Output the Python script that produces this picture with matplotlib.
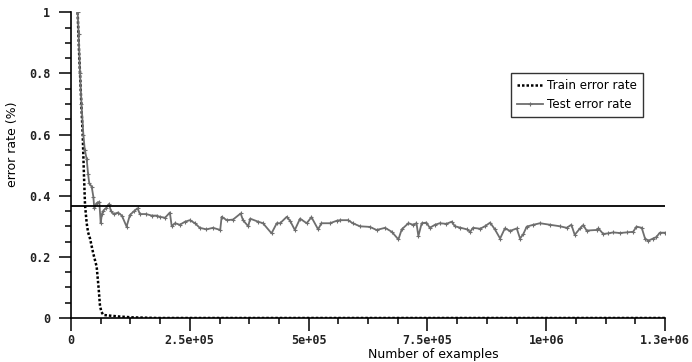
import matplotlib
matplotlib.use("Agg")
import matplotlib.pyplot as plt
from matplotlib.ticker import MultipleLocator

# thousands of examples
train_x = [14, 17, 19, 22, 24.6, 27, 29.5, 33, 36, 40, 47, 54, 58, 61, 64, 68,
           80, 100, 130, 180, 400, 800, 1250]
train_err = [1.0, 0.87, 0.8, 0.69, 0.6, 0.48, 0.37, 0.31, 0.28, 0.26, 0.21, 0.168,
             0.10, 0.04, 0.02, 0.01, 0.008, 0.005, 0.002, 0.0, 0.0, 0.0, 0.0]

test_x = [14, 16, 19, 22, 26, 29, 33, 36, 38.5, 43.5, 47, 49, 54, 59.6, 62.5, 65,
          68, 74, 80, 84, 90, 99, 107, 117, 124, 133, 140, 145, 158, 170, 180,
          187, 198, 208, 212, 219, 229, 240, 250, 261, 271, 285, 299, 314, 317,
          328, 341, 357, 362, 373, 377, 394, 404, 422, 433, 440, 454, 461, 471,
          482, 496, 506, 520, 527, 545, 559, 566, 583, 593, 608, 629, 643, 661,
          675, 689, 696, 710, 720, 727, 731, 738, 748, 755, 766, 776, 790, 801,
          808, 818, 833, 840, 846, 861, 871, 882, 892, 903, 913, 924, 938, 945,
          952, 959, 973, 987, 1008, 1029, 1043, 1053, 1060, 1071, 1078, 1085,
          1106, 1110, 1120, 1131, 1141, 1155, 1169, 1183, 1190, 1201, 1208, 1215,
          1225, 1232, 1239, 1250]
test_err = [1.0, 0.93, 0.80, 0.70, 0.60, 0.55, 0.52, 0.47, 0.44, 0.43, 0.397, 0.359,
            0.376, 0.38, 0.31, 0.34, 0.351, 0.36, 0.373, 0.35, 0.34, 0.345, 0.335,
            0.299, 0.337, 0.35, 0.359, 0.34, 0.34, 0.335, 0.335, 0.331, 0.328,
            0.345, 0.30, 0.31, 0.305, 0.315, 0.32, 0.31, 0.295, 0.29, 0.295, 0.288,
            0.331, 0.32, 0.322, 0.342, 0.32, 0.30, 0.325, 0.315, 0.31, 0.277, 0.31,
            0.31, 0.331, 0.318, 0.288, 0.325, 0.31, 0.33, 0.29, 0.31, 0.31, 0.318,
            0.32, 0.32, 0.31, 0.30, 0.298, 0.288, 0.295, 0.282, 0.257, 0.29, 0.31,
            0.305, 0.31, 0.268, 0.31, 0.312, 0.295, 0.305, 0.31, 0.308, 0.315, 0.30,
            0.296, 0.29, 0.282, 0.295, 0.292, 0.30, 0.312, 0.29, 0.26, 0.293, 0.285,
            0.293, 0.26, 0.275, 0.299, 0.305, 0.31, 0.305, 0.30, 0.295, 0.305, 0.272,
            0.293, 0.304, 0.286, 0.288, 0.293, 0.275, 0.277, 0.28, 0.278, 0.28,
            0.282, 0.299, 0.295, 0.26, 0.253, 0.26, 0.265, 0.279, 0.279]

baseline = 0.368

xticks = [0, 2.5e5, 5e5, 7.5e5, 1e6, 1.25e6]
xtick_labels = ["0", "2.5e+05", "5e+05", "7.5e+05", "1e+06", "1.3e+06"]
yticks = [0, 0.2, 0.4, 0.6, 0.8, 1]
ytick_labels = ["0", "0.2", "0.4", "0.6", "0.8", "1"]

fig = plt.figure(figsize=(6.92, 3.62), dpi=100)
ax = fig.add_axes([71 / 692, 1 - 318 / 362, 594 / 692, 305.7 / 362])

ax.plot([x * 1000 for x in train_x], train_err, color="black", linestyle=(0, (1, 0.8)),
        linewidth=1.8, label="Train error rate")
ax.plot([x * 1000 for x in test_x], test_err, color="#6e6e6e", linewidth=1.3,
        marker="+", markersize=3, markeredgewidth=0.8, label="Test error rate")
ax.plot([0, 1.25e6], [baseline, baseline], color="black", linewidth=1.3)

ax.set_xlim(0, 1.25e6)
ax.set_ylim(0, 1)
ax.spines["top"].set_visible(False)
ax.spines["right"].set_visible(False)
ax.spines["left"].set_linewidth(1.2)
ax.spines["bottom"].set_linewidth(1.2)

ax.set_xticks(xticks)
ax.set_xticklabels(xtick_labels)
ax.set_yticks(yticks)
ax.set_yticklabels(ytick_labels)
ax.xaxis.set_minor_locator(MultipleLocator(6.25e4))
ax.yaxis.set_minor_locator(MultipleLocator(0.05))
ax.tick_params(which="major", direction="out", length=9, width=1.1)
ax.tick_params(which="minor", direction="out", length=4.5, width=1.1)
ax.tick_params(axis="x", which="major", pad=2.5)
ax.tick_params(axis="y", which="major", pad=6)
for lab in ax.get_xticklabels() + ax.get_yticklabels():
    lab.set_family("DejaVu Sans Mono")
    lab.set_fontweight("bold")
    lab.set_fontsize(8.5)
    lab.set_color("#222222")

ax.set_xlabel("Number of examples", fontsize=9)
ax.xaxis.set_label_coords(0.61, -0.098)
ax.set_ylabel("error rate (%)", fontsize=9)
ax.yaxis.set_label_coords(-0.088, 0.57)

leg = ax.legend(loc="upper left", bbox_to_anchor=(511 / 692, 1 - 73 / 362),
                bbox_transform=fig.transFigure, fontsize=8.6, frameon=True,
                fancybox=False, handlelength=2.2, handletextpad=0.3,
                borderpad=0.5, borderaxespad=0)
leg.get_frame().set_edgecolor("black")
leg.get_frame().set_linewidth(1.0)

fig.savefig("out.png", dpi=100)
